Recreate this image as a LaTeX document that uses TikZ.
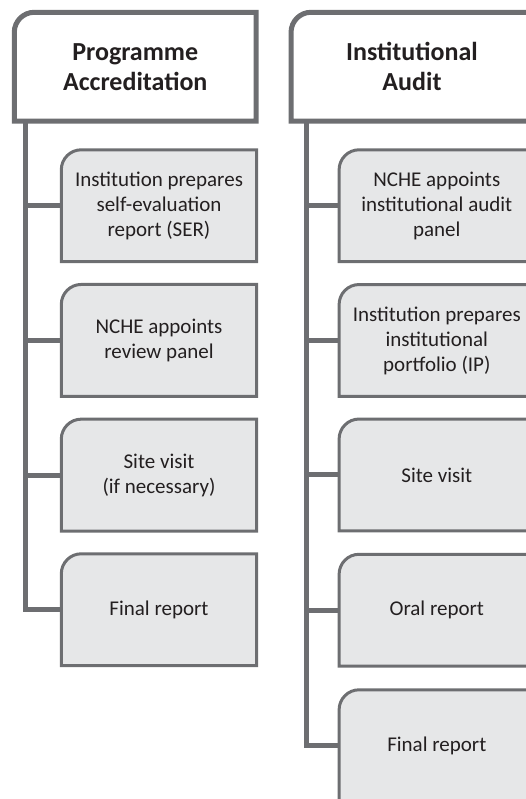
\documentclass[tikz,border=0pt]{standalone}
\usepackage{fontspec}
\setmainfont{Carlito}
\usetikzlibrary{backgrounds}
\definecolor{linegray}{HTML}{6D6E71}
\definecolor{boxfill}{HTML}{E6E7E8}
\definecolor{txt}{HTML}{231F20}
\tikzset{
  headbox/.style={rectangle, minimum width=241.5pt, minimum height=108.5pt, inner sep=0pt,
    align=center, text=txt, font=\fontsize{26}{30}\selectfont\bfseries},
  stepbox/.style={rectangle, minimum width=195pt, minimum height=111.5pt, inner sep=0pt,
    align=center, text=txt, font=\fontsize{21}{25}\selectfont},
  headline/.style={draw=linegray, line width=5pt, fill=white},
  boxline/.style={draw=linegray, line width=3pt, fill=boxfill},
  trunk/.style={draw=linegray, line width=5pt},
}
\newcommand{\tlshape}[3]{% node, style, radius
  \path[#2] (#1.south west) -- ([yshift=-#3]#1.north west)
    arc[start angle=180, end angle=90, radius=#3] -- (#1.north east)
    -- (#1.south east) -- cycle;}
\begin{document}
\begin{tikzpicture}[x=1pt,y=1pt]
\useasboundingbox (0,0) rectangle (526,799);
\clip (0,0) rectangle (526,799);
% left column
\node[headbox] (hA) at (135.25,732.25) {Programme\\Accreditation};
\node[stepbox] (a1) at (159,593.25) {Institution prepares\\self-evaluation\\report (SER)};
\node[stepbox] (a2) at (159,458.6) {NCHE appoints\\review panel};
\node[stepbox] (a3) at (159,323.9) {Site visit\\(if necessary)};
\node[stepbox] (a4) at (159,189.25) {Final report};
% right column
\node[headbox] (hB) at (412,732.25) {Institutional\\Audit};
\node[stepbox] (b1) at (436.8,593.25) {NCHE appoints\\institutional audit\\panel};
\node[stepbox] (b2) at (436.8,458.5) {Institution prepares\\institutional\\portfolio (IP)};
\node[stepbox] (b3) at (436.8,324) {Site visit};
\node[stepbox] (b4) at (436.8,188.75) {Oral report};
\node[stepbox] (b5) at (436.8,53.25) {Final report};
\coordinate (vA) at (25,678);
\coordinate (vB) at (306,678);
\begin{scope}[on background layer]
  \draw[trunk] (vA) |- (a4.west);
  \foreach \n in {a1,a2,a3} \draw[trunk] (vA |- \n.west) -- (\n.west);
  \draw[trunk] (vB) |- (b5.west);
  \foreach \n in {b1,b2,b3,b4} \draw[trunk] (vB |- \n.west) -- (\n.west);
  \tlshape{hA}{headline}{20pt}
  \tlshape{hB}{headline}{20pt}
  \foreach \n in {a1,a2,a3,a4,b1,b2,b3,b4,b5} {\tlshape{\n}{boxline}{20pt}}
\end{scope}
\end{tikzpicture}
\end{document}
